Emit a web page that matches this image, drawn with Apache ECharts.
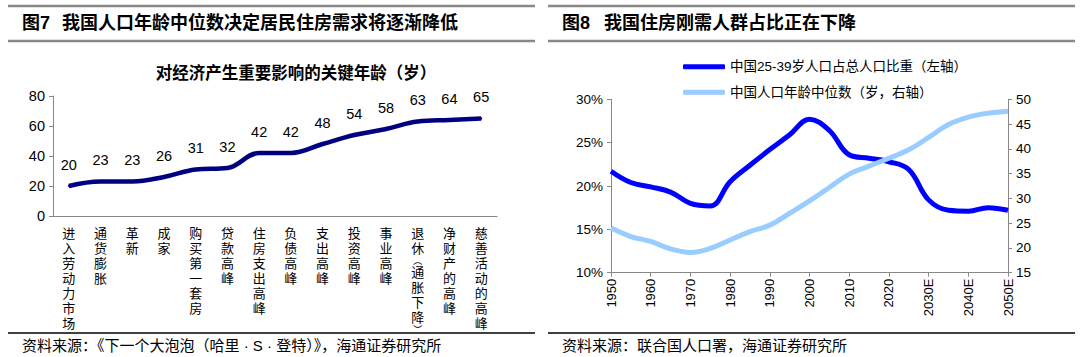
<!DOCTYPE html>
<html><head><meta charset="utf-8">
<script src="https://cdn.jsdelivr.net/npm/echarts@6/dist/echarts.min.js"></script>
<style>html,body{margin:0;padding:0;background:#fff}#c{width:1080px;height:357px}</style>
</head><body><div id="c"></div>
<script>
// ---- Figure 7 data ----
const ageCategories = ['进入劳动力市场','通货膨胀','革新','成家','购买第一套房','贷款高峰','住房支出高峰','负债高峰','支出高峰','投资高峰','事业高峰','退休︵通胀下降︶','净财产的高峰','慈善活动的高峰'];
const ageValues = [20,23,23,26,31,32,42,42,48,54,58,63,64,65];
// ---- Figure 8 data ----
const yearCategories = ['1950','1955','1960','1965','1970','1975','1980','1985','1990','1995','2000','2005','2010','2015','2020','2025','2030E','2035E','2040E','2045E','2050E'];
const share2539 = [21.7,20.4,19.9,19.3,18.0,17.7,20.5,22.4,24.2,25.9,27.7,26.4,23.6,23.2,22.8,21.9,18.4,17.2,17.1,17.5,17.2];
const medianAge = [24.0,22.3,21.3,19.8,19.1,19.9,21.6,23.3,24.6,27.0,29.5,32.2,34.9,36.5,38.1,39.8,42.3,44.9,46.4,47.2,47.6];
const seriesNames = ['中国25-39岁人口占总人口比重（左轴）','中国人口年龄中位数（岁，右轴）'];

const FF = '"Liberation Sans", "Noto Sans CJK SC", sans-serif';
const AX = '#888888';

const chart = echarts.init(document.getElementById('c'), null, {renderer:'svg'});
function txt(x, y, text, size, weight, align) {
  return {type:'text', x:x, y:y, silent:true, style:{text:text, fontSize:size, fontWeight:weight||'normal', fontFamily:FF, fill:'#000', align:align||'left', verticalAlign:'middle'}};
}
function ln(x1,y1,x2,y2,c,w){return {type:'line', silent:true, shape:{x1:x1,y1:y1,x2:x2,y2:y2}, style:{stroke:c,lineWidth:w}};}

// vertical label: each character on its own line; vertical brackets get a compact line
function verticalLabel(v) {
  return v.split('').map(function(ch){
    return (ch === '︵' || ch === '︶') ? '{p|' + ch + '}' : '{c|' + ch + '}';
  }).join('\n');
}

chart.setOption({
  animation:false,
  textStyle:{fontFamily:FF},
  graphic:[
    ln(8,6,535,6,AX,2.5), ln(8,41,535,41,AX,2.5),
    ln(548,6,1075,6,AX,2.5), ln(548,41,1075,41,AX,2.5),
    ln(8,333,535,333,'#000',1.5), ln(548,333,1075,333,'#000',1.5),
    txt(22,23,'图7',18,'bold'), txt(62,23,'我国人口年龄中位数决定居民住房需求将逐渐降低',18,'bold'),
    txt(562,23,'图8',18,'bold'), txt(604,23,'我国住房刚需人群占比正在下降',18,'bold'),
    txt(296,73,'对经济产生重要影响的关键年龄（岁）',16.5,'bold','center'),
    txt(22,345,'资料来源：《下一个大泡泡（哈里 · S · 登特）》，海通证券研究所',15),
    txt(562,345,'资料来源：联合国人口署，海通证券研究所',15)
  ],
  legend:{
    data:seriesNames, orient:'vertical', left:678, top:55, itemWidth:42, itemHeight:5, itemGap:12, icon:'roundRect',
    textStyle:{fontSize:13.5, color:'#000', fontFamily:FF}
  },
  grid:[
    {left:53, right:583, top:96, bottom:141, containLabel:false},
    {left:611, right:72, top:99.3, bottom:84.3, containLabel:false}
  ],
  xAxis:[
    {type:'category', gridIndex:0, data:ageCategories, boundaryGap:true,
     axisLine:{lineStyle:{color:AX}}, axisTick:{length:4, lineStyle:{color:AX}},
     axisLabel:{interval:0, color:'#000', fontSize:13, lineHeight:15, margin:10, verticalAlign:'top',
       formatter:verticalLabel,
       rich:{c:{fontSize:13, lineHeight:15, color:'#000'}, p:{fontSize:9, lineHeight:9, color:'#000'}}}},
    {type:'category', gridIndex:1, data:yearCategories, boundaryGap:false,
     axisLine:{lineStyle:{color:AX}}, axisTick:{length:4, interval:1, lineStyle:{color:AX}},
     axisLabel:{interval:1, rotate:90, color:'#000', fontSize:13, margin:6}}
  ],
  yAxis:[
    {type:'value', gridIndex:0, min:0, max:80, interval:20, splitLine:{show:false},
     axisLine:{show:true, lineStyle:{color:AX}}, axisTick:{show:true, length:4, lineStyle:{color:AX}},
     axisLabel:{color:'#000', fontSize:14.5, margin:8}},
    {type:'value', gridIndex:1, min:10, max:30, interval:5, splitLine:{show:false},
     axisLine:{show:true, lineStyle:{color:AX}}, axisTick:{show:true, length:4, lineStyle:{color:AX}},
     axisLabel:{color:'#000', fontSize:13.5, margin:8, formatter:'{value}%'}},
    {type:'value', gridIndex:1, position:'right', min:15, max:50, interval:5, splitLine:{show:false},
     axisLine:{show:true, lineStyle:{color:AX}}, axisTick:{show:true, length:4, lineStyle:{color:AX}},
     axisLabel:{color:'#000', fontSize:13.5, margin:8}}
  ],
  series:[
    {type:'line', xAxisIndex:0, yAxisIndex:0, data:ageValues, smooth:0.4, symbol:'circle', symbolSize:2, showSymbol:true,
     lineStyle:{color:'#000080', width:4.5}, itemStyle:{color:'#000080'},
     label:{show:true, position:'top', distance:13, color:'#000', fontSize:14.5, fontFamily:FF}},
    {name:seriesNames[0], type:'line', xAxisIndex:1, yAxisIndex:1, data:share2539, smooth:0.4, symbol:'none',
     lineStyle:{color:'#0000FF', width:5}, itemStyle:{color:'#0000FF'}},
    {name:seriesNames[1], type:'line', xAxisIndex:1, yAxisIndex:2, data:medianAge, smooth:0.4, symbol:'none',
     lineStyle:{color:'#99CCFF', width:5}, itemStyle:{color:'#99CCFF'}}
  ]
});
</script></body></html>
